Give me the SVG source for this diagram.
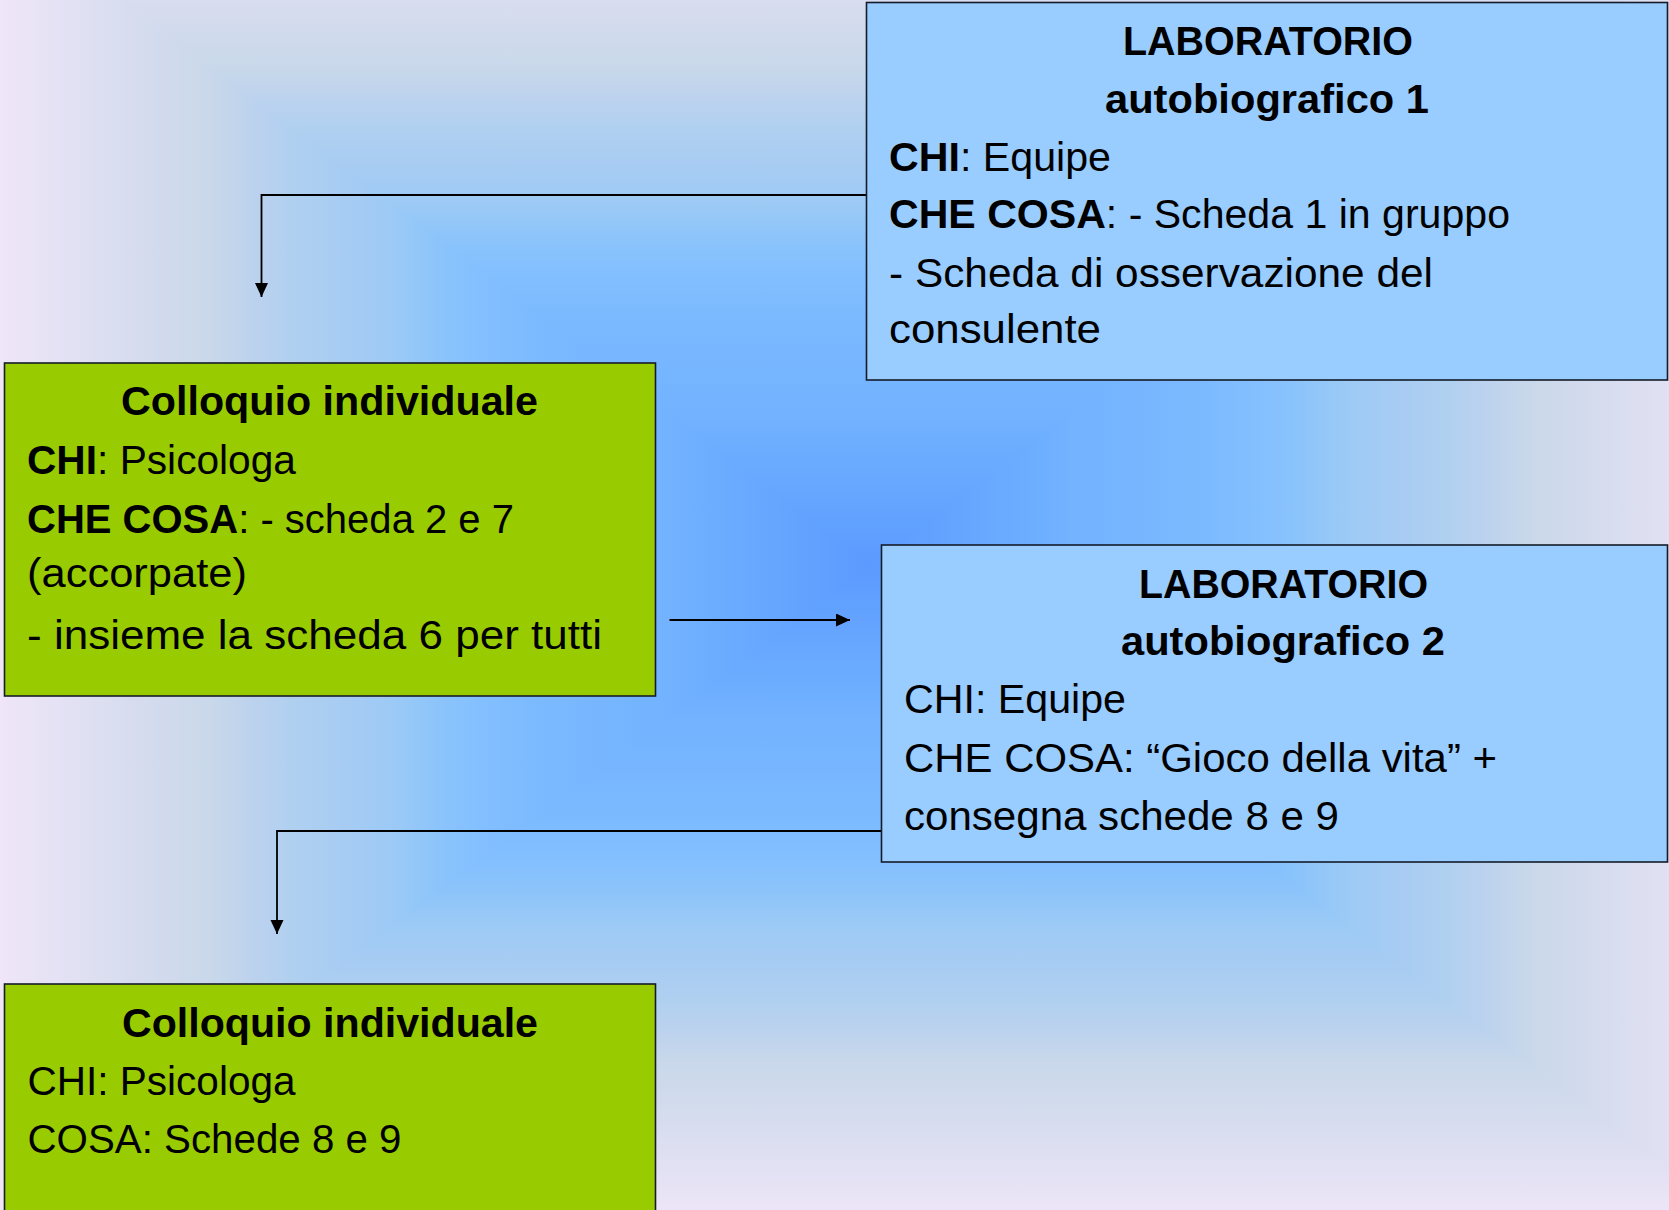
<svg xmlns="http://www.w3.org/2000/svg" width="1669" height="1210" viewBox="0 0 1669 1210">
<style>
.t{font-family:"Liberation Sans",Arial,sans-serif;font-size:41px;fill:#000}
.b{font-weight:bold}
.box{stroke:#141c28;stroke-width:1.6}
.blue{fill:#99ccff}
.green{fill:#99cc00}
.conn{fill:none;stroke:#000;stroke-width:1.8}
.bg{shape-rendering:crispEdges}
</style>
<defs>
<linearGradient id="prof" gradientUnits="userSpaceOnUse" x1="870" y1="0" x2="0" y2="0">
<stop offset="0" stop-color="#5c9aff"/>
<stop offset="0.069" stop-color="#62a2ff"/>
<stop offset="0.230" stop-color="#72b2ff"/>
<stop offset="0.387" stop-color="#7cbaff"/>
<stop offset="0.452" stop-color="#84c0ff"/>
<stop offset="0.497" stop-color="#8cc4fa"/>
<stop offset="0.548" stop-color="#9ccaf6"/>
<stop offset="0.613" stop-color="#a8ccf2"/>
<stop offset="0.664" stop-color="#b0d0f0"/>
<stop offset="0.710" stop-color="#bcd2ee"/>
<stop offset="0.755" stop-color="#c8d8ea"/>
<stop offset="0.839" stop-color="#d5dcee"/>
<stop offset="0.903" stop-color="#dfe0f2"/>
<stop offset="1" stop-color="#efe6f8"/>
</linearGradient>
<linearGradient id="gL" href="#prof" x1="870" y1="0" x2="0" y2="0"/>
<linearGradient id="gR" href="#prof" x1="870" y1="0" x2="1740" y2="0"/>
<linearGradient id="gT" href="#prof" x1="0" y1="565" x2="0" y2="-91.85"/>
<linearGradient id="gB" href="#prof" x1="0" y1="565" x2="0" y2="1221.85"/>
<marker id="arr" markerUnits="userSpaceOnUse" markerWidth="15" markerHeight="14" refX="14" refY="6.5" orient="auto">
<path d="M0,0 L14,6.5 L0,13 z" fill="#000"/>
</marker>
</defs>

<g id="background">
<rect x="0" y="0" width="1669" height="1210" fill="#9ccaf6"/>
<polygon class="bg" points="870,565 -130,-190 -130,1320" fill="url(#gL)"/>
<polygon class="bg" points="870,565 1870,-190 1870,1320" fill="url(#gR)"/>
<polygon class="bg" points="870,565 -130,-190 1870,-190" fill="url(#gT)"/>
<polygon class="bg" points="870,565 -130,1320 1870,1320" fill="url(#gB)"/>
</g>

<g id="connectors">
<path class="conn" d="M866.5,195 H261.5 V297" marker-end="url(#arr)"/>
<path class="conn" d="M669.5,620 H850" marker-end="url(#arr)"/>
<path class="conn" d="M881.5,831 H277 V934" marker-end="url(#arr)"/>
</g>

<g id="lab1">
<rect class="box blue" x="866.5" y="2.5" width="801" height="377.5"/>
<text class="t b" x="1123" y="55" textLength="290" lengthAdjust="spacingAndGlyphs">LABORATORIO</text>
<text class="t b" x="1105" y="113" textLength="324" lengthAdjust="spacingAndGlyphs">autobiografico 1</text>
<text class="t" x="889" y="171" textLength="222" lengthAdjust="spacingAndGlyphs"><tspan class="b">CHI</tspan>: Equipe</text>
<text class="t" x="889" y="228" textLength="621" lengthAdjust="spacingAndGlyphs"><tspan class="b">CHE COSA</tspan>: - Scheda 1 in gruppo</text>
<text class="t" x="889" y="287" textLength="544" lengthAdjust="spacingAndGlyphs">- Scheda di osservazione del</text>
<text class="t" x="889" y="343" textLength="212" lengthAdjust="spacingAndGlyphs">consulente</text>
</g>

<g id="colloquio1">
<rect class="box green" x="4.5" y="363" width="651" height="333"/>
<text class="t b" x="121" y="415" textLength="417" lengthAdjust="spacingAndGlyphs">Colloquio individuale</text>
<text class="t" x="27" y="474" textLength="269" lengthAdjust="spacingAndGlyphs"><tspan class="b">CHI</tspan>: Psicologa</text>
<text class="t" x="27" y="533" textLength="487" lengthAdjust="spacingAndGlyphs"><tspan class="b">CHE COSA</tspan>: - scheda 2 e 7</text>
<text class="t" x="27" y="587" textLength="220" lengthAdjust="spacingAndGlyphs">(accorpate)</text>
<text class="t" x="27" y="649" textLength="575" lengthAdjust="spacingAndGlyphs">- insieme la scheda 6 per tutti</text>
</g>

<g id="lab2">
<rect class="box blue" x="881.5" y="545" width="786" height="317"/>
<text class="t b" x="1139" y="598" textLength="289" lengthAdjust="spacingAndGlyphs">LABORATORIO</text>
<text class="t b" x="1121" y="655" textLength="324" lengthAdjust="spacingAndGlyphs">autobiografico 2</text>
<text class="t" x="904" y="713" textLength="222" lengthAdjust="spacingAndGlyphs">CHI: Equipe</text>
<text class="t" x="904" y="772" textLength="593" lengthAdjust="spacingAndGlyphs">CHE COSA: “Gioco della vita” +</text>
<text class="t" x="904" y="830" textLength="435" lengthAdjust="spacingAndGlyphs">consegna schede 8 e 9</text>
</g>

<g id="colloquio2">
<rect class="box green" x="4.5" y="984" width="651" height="240"/>
<text class="t b" x="122" y="1037" textLength="416" lengthAdjust="spacingAndGlyphs">Colloquio individuale</text>
<text class="t" x="27.5" y="1095" textLength="268" lengthAdjust="spacingAndGlyphs">CHI: Psicologa</text>
<text class="t" x="27.5" y="1153" textLength="374" lengthAdjust="spacingAndGlyphs">COSA: Schede 8 e 9</text>
</g>
</svg>
